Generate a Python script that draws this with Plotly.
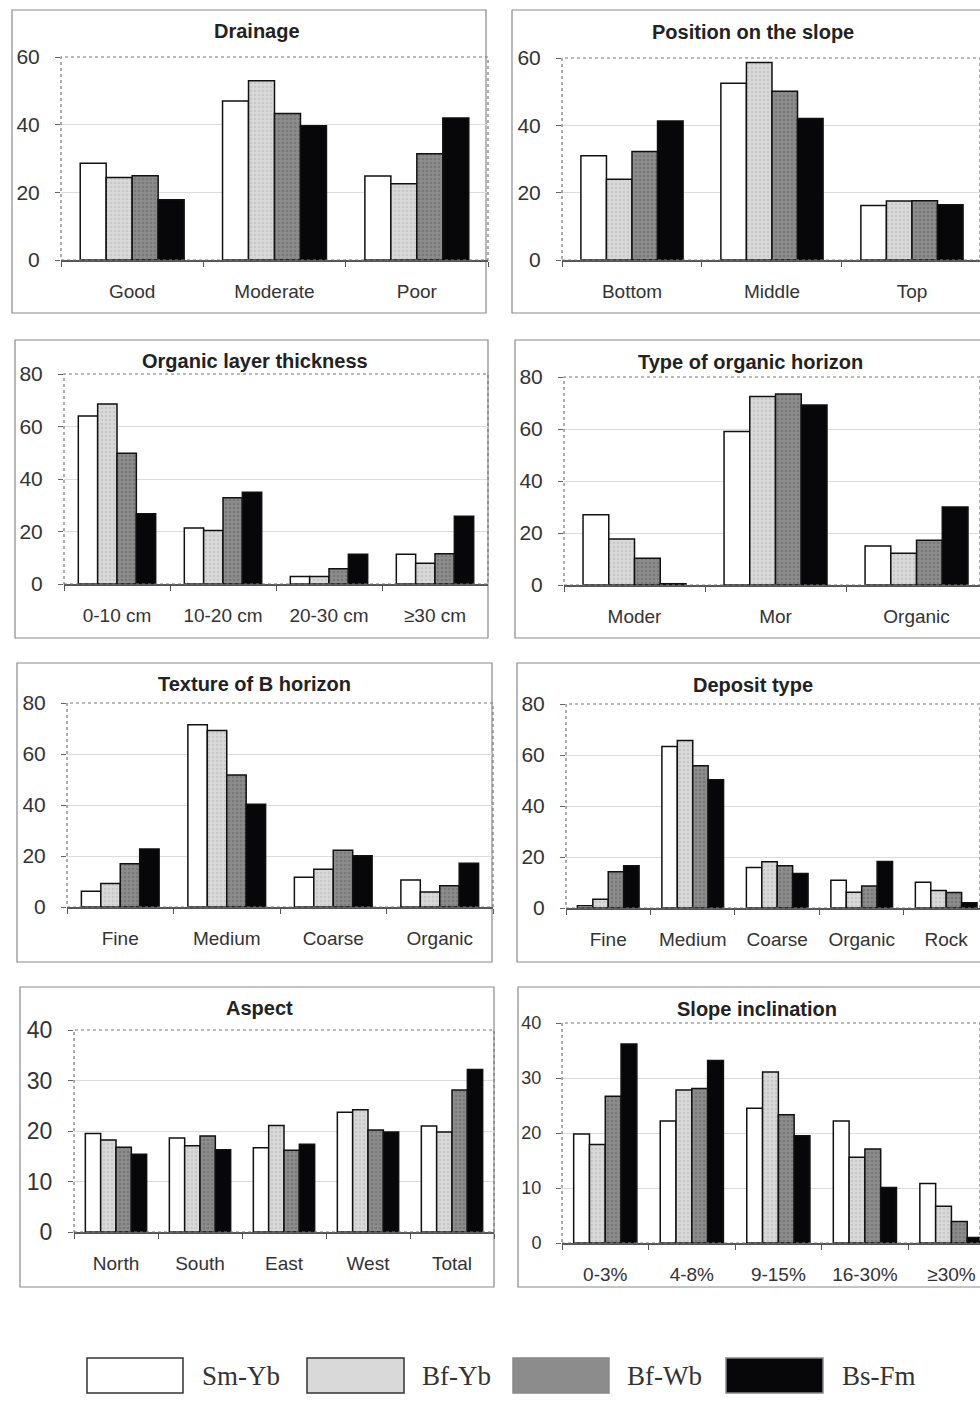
import plotly.graph_objects as go

# ---------------- data ----------------
series_names = ["Sm-Yb", "Bf-Yb", "Bf-Wb", "Bs-Fm"]
series_colors = ["#ffffff", "#d9d9d9", "#8c8c8c", "#070709"]
pattern_fg = ["#ffffff", "#b8b8b8", "#666666", "#151522"]

drainage_cats = ["Good", "Moderate", "Poor"]
drainage_vals = [[28.6, 47.0, 24.8], [24.4, 53.0, 22.5], [24.9, 43.3, 31.4], [17.8, 39.7, 42.0]]

position_cats = ["Bottom", "Middle", "Top"]
position_vals = [[31.0, 52.5, 16.2], [24.0, 58.7, 17.5], [32.2, 50.1, 17.6], [41.3, 42.0, 16.4]]

thickness_cats = ["0-10 cm", "10-20 cm", "20-30 cm", "\u226530 cm"]
thickness_vals = [[64.0, 21.3, 2.9, 11.3], [68.6, 20.4, 2.9, 7.9], [49.8, 32.9, 5.8, 11.5], [26.8, 35.0, 11.3, 25.8]]

horizon_cats = ["Moder", "Mor", "Organic"]
horizon_vals = [[27.0, 59.0, 15.0], [17.7, 72.5, 12.2], [10.3, 73.5, 17.2], [0.5, 69.2, 30.0]]

texture_cats = ["Fine", "Medium", "Coarse", "Organic"]
texture_vals = [[6.2, 71.5, 11.7, 10.6], [9.2, 69.2, 14.8, 5.9], [17.0, 51.8, 22.3, 8.3], [22.7, 40.3, 20.1, 17.2]]

deposit_cats = ["Fine", "Medium", "Coarse", "Organic", "Rock"]
deposit_vals = [[0.9, 63.3, 15.9, 10.9, 10.1], [3.4, 65.7, 18.1, 6.2, 6.9], [14.2, 55.8, 16.6, 8.6, 6.1], [16.6, 50.3, 13.5, 18.2, 2.1]]

aspect_cats = ["North", "South", "East", "West", "Total"]
aspect_vals = [[19.5, 18.6, 16.7, 23.7, 21.0], [18.2, 17.1, 21.1, 24.2, 19.8], [16.8, 19.0, 16.2, 20.2, 28.1], [15.4, 16.3, 17.4, 19.8, 32.2]]

slope_cats = ["0-3%", "4-8%", "9-15%", "16-30%", "\u226530%"]
slope_vals = [[19.8, 22.2, 24.5, 22.2, 10.8], [17.9, 27.8, 31.1, 15.6, 6.7], [26.7, 28.1, 23.3, 17.1, 3.9], [36.2, 33.2, 19.5, 10.1, 1.0]]

# ---------------- layout ----------------
W, H = 980, 1402
FONT = "Liberation Sans, Arial, sans-serif"

panels = [
    dict(title="Drainage", cats=drainage_cats, vals=drainage_vals, box=(12, 10, 486, 313),
         plot=(61, 57, 488, 260), ymax=60, dt=20, xright=None, tx=257, ty=31, yfs=21),
    dict(title="Position on the slope", cats=position_cats, vals=position_vals, box=(512, 10, 990, 313),
         plot=(562, 58, 980, 260), ymax=60, dt=20, xright=2.486, tx=753, ty=32, yfs=21),
    dict(title="Organic layer thickness", cats=thickness_cats, vals=thickness_vals, box=(15, 340, 488, 638),
         plot=(64, 374, 488, 584), ymax=80, dt=20, xright=None, tx=255, ty=361, yfs=21),
    dict(title="Type of organic horizon", cats=horizon_cats, vals=horizon_vals, box=(515, 340, 990, 638),
         plot=(564, 377, 980, 585), ymax=80, dt=20, xright=2.45, tx=750, ty=362, yfs=21),
    dict(title="Texture of B horizon", cats=texture_cats, vals=texture_vals, box=(17, 663, 492, 962),
         plot=(67, 703, 493, 907), ymax=80, dt=20, xright=None, tx=254, ty=684, yfs=21),
    dict(title="Deposit type", cats=deposit_cats, vals=deposit_vals, box=(517, 663, 990, 962),
         plot=(566, 704, 980, 908), ymax=80, dt=20, xright=4.4, tx=753, ty=685, yfs=21),
    dict(title="Aspect", cats=aspect_cats, vals=aspect_vals, box=(20, 987, 494, 1287),
         plot=(74, 1030, 494, 1232), ymax=40, dt=10, xright=None, tx=259, ty=1008, yfs=23),
    dict(title="Slope inclination", cats=slope_cats, vals=slope_vals, box=(518, 987, 990, 1287),
         plot=(562, 1023, 980, 1243), ymax=40, dt=10, xright=4.33, tx=757, ty=1009, yfs=18),
]


def px(x):
    return x / W


def py(y):
    return 1 - y / H


fig = go.Figure()
shapes = []
annotations = []
layout = {}

for i, p in enumerate(panels):
    k = "" if i == 0 else str(i + 1)
    xa, ya = "x" + k, "y" + k
    for s in range(4):
        marker = dict(color=series_colors[s], line=dict(color="#111111", width=1.5))
        if s in (1, 2):
            marker["pattern"] = dict(shape=".", bgcolor=series_colors[s], fgcolor=pattern_fg[s],
                                     size=4, solidity=0.35)
        fig.add_trace(go.Bar(
            x=p["cats"], y=p["vals"][s], name=series_names[s], xaxis=xa, yaxis=ya,
            marker=marker, showlegend=False,
        ))
    x0, y0, x1, y1 = p["plot"]
    n = len(p["cats"])
    xr = [-0.5, p["xright"] if p["xright"] is not None else n - 0.5]
    layout["xaxis" + k] = dict(
        domain=[px(x0), min(1.0, px(x1))], anchor=ya, range=xr, type="category",
        showline=True, linecolor="#555555", linewidth=1.5,
        ticks="outside", tickson="boundaries", ticklen=5, tickcolor="#555555",
        tickfont=dict(family=FONT, size=19, color="#333333"),
        ticklabelstandoff=13, showgrid=False, fixedrange=True, automargin=False,
    )
    layout["yaxis" + k] = dict(
        domain=[py(y1), py(y0)], anchor=xa, range=[0, p["ymax"]],
        tickvals=list(range(0, p["ymax"] + 1, p["dt"])),
        showline=False, ticks="outside", ticklen=5, tickcolor="#666666",
        tickfont=dict(family=FONT, size=p["yfs"], color="#333333"),
        ticklabelstandoff=11, showgrid=True, gridcolor="#dcdcdc", gridwidth=1,
        zeroline=False, fixedrange=True, automargin=False,
    )
    # outer panel box
    bx0, by0, bx1, by1 = p["box"]
    shapes.append(dict(type="rect", xref="paper", yref="paper",
                       x0=px(bx0), x1=px(bx1), y0=py(by1), y1=py(by0),
                       line=dict(color="#8a8a8a", width=1.2), layer="below"))
    # plot area frame (dotted)
    shapes.append(dict(type="rect", xref="paper", yref="paper",
                       x0=px(x0), x1=px(x1), y0=py(y1), y1=py(y0),
                       line=dict(color="#777777", width=1.2, dash="dot"), layer="above"))
    annotations.append(dict(text="<b>%s</b>" % p["title"], xref="paper", yref="paper",
                            x=px(p["tx"]), y=py(p["ty"]), xanchor="center", yanchor="middle",
                            showarrow=False, font=dict(family=FONT, size=20, color="#222222")))

# legend (custom)
leg_boxes = [(87, 183), (307, 404), (513, 609), (726, 823)]
leg_text_x = [200, 420, 625, 840]
for s in range(4):
    bx0, bx1 = leg_boxes[s]
    shapes.append(dict(type="rect", xref="paper", yref="paper",
                       x0=px(bx0), x1=px(bx1), y0=py(1393), y1=py(1358),
                       fillcolor=series_colors[s],
                       line=dict(color="#333333" if s < 2 else "#888888", width=1.5)))
    annotations.append(dict(text=series_names[s], xref="paper", yref="paper",
                            x=px(leg_text_x[s]), y=py(1376), xanchor="left", yanchor="middle",
                            showarrow=False,
                            font=dict(family="Liberation Serif, DejaVu Serif, serif", size=27, color="#333333")))

fig.update_layout(
    width=W, height=H, margin=dict(l=0, r=0, t=0, b=0, autoexpand=False),
    paper_bgcolor="white", plot_bgcolor="white",
    barmode="group", bargap=0.27, bargroupgap=0,
    shapes=shapes, annotations=annotations, showlegend=False,
    **layout,
)

fig.write_html("out.html", config={"displayModeBar": False},
               post_script="document.body.style.margin='0px';document.body.style.overflow='hidden';")
